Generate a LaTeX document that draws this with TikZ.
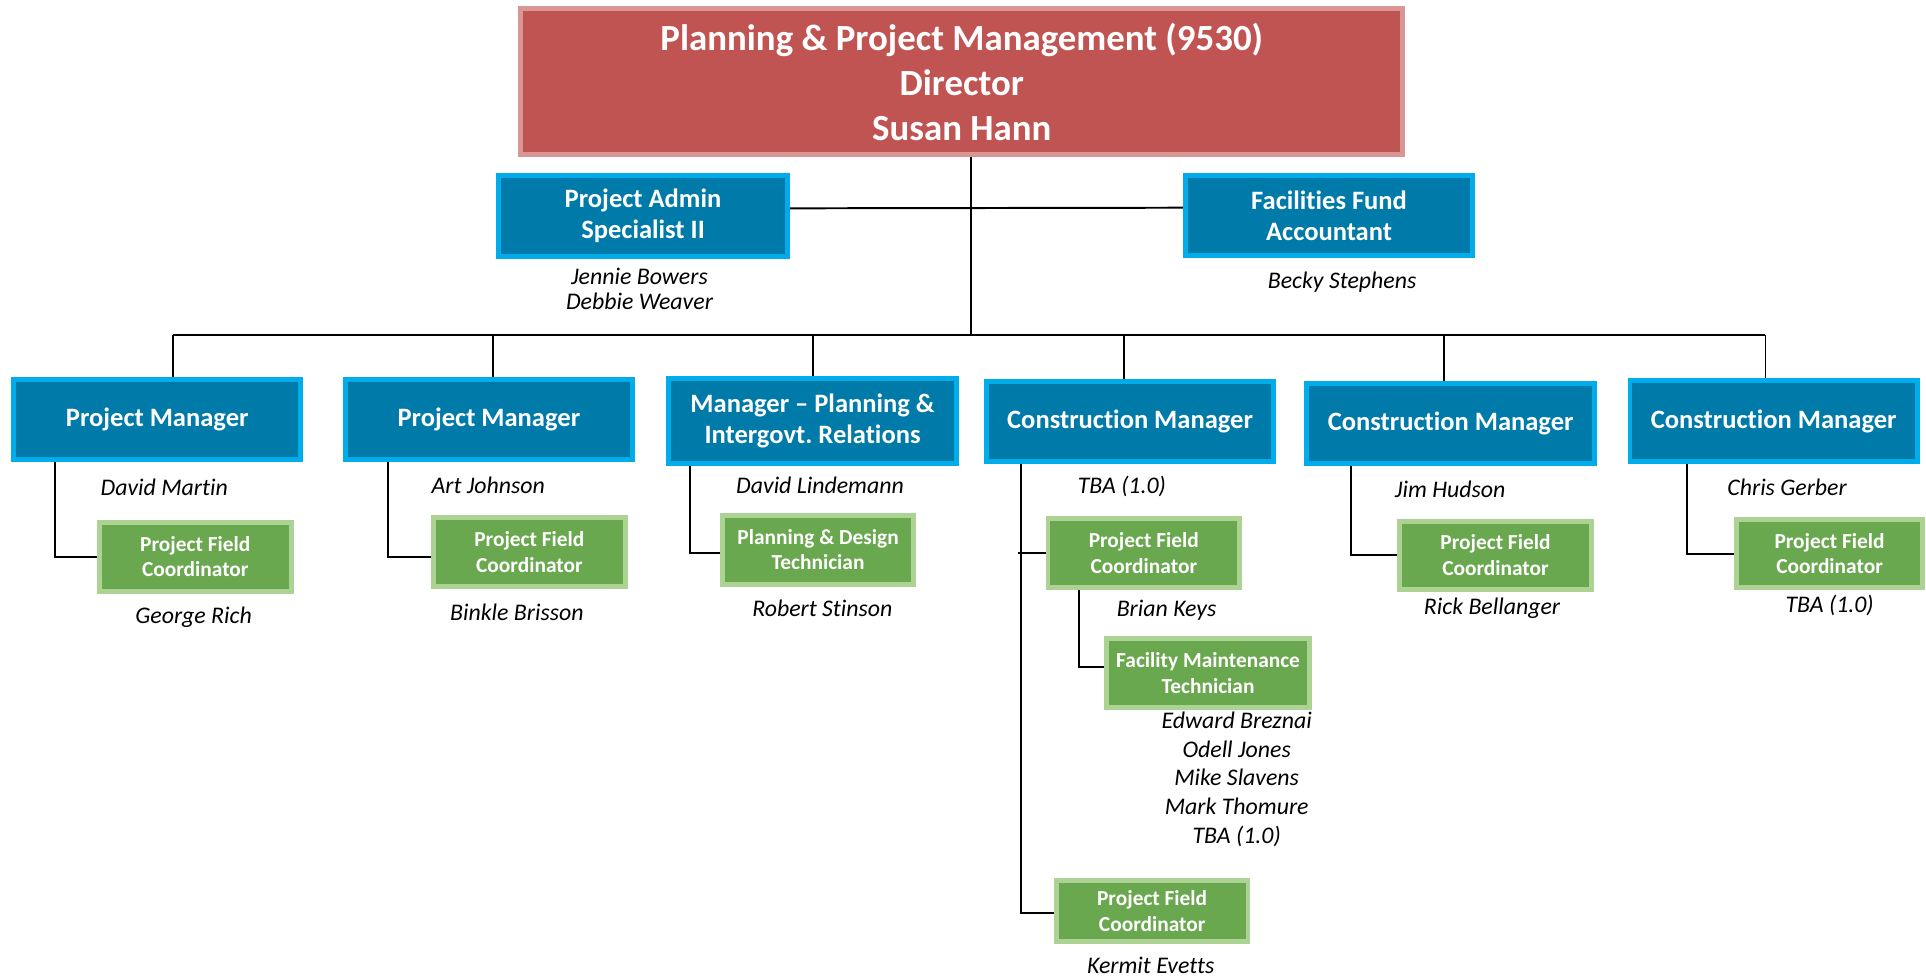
\documentclass[tikz,border=0pt]{standalone}
\usepackage{fontspec}
\setmainfont{Carlito}[Ligatures={TeX,NoCommon}]
\definecolor{redfill}{RGB}{192,84,82}
\definecolor{redline}{RGB}{217,150,148}
\definecolor{bluefill}{RGB}{0,122,168}
\definecolor{blueline}{RGB}{0,172,234}
\definecolor{greenfill}{RGB}{106,168,79}
\definecolor{greenline}{RGB}{172,210,148}
\tikzset{
  box/.style={rectangle, inner sep=0pt, line width=2pt, align=center, text=white},
  topbox/.style={box, fill=redfill, draw=redline, font=\fontsize{15}{18.3}\selectfont\bfseries},
  bluebox/.style={box, fill=bluefill, draw=blueline, minimum width=117pt, minimum height=32.5pt, font=\fontsize{10.8}{12.6}\selectfont\bfseries},
  greenbox/.style={box, fill=greenfill, draw=greenline, minimum width=78pt, minimum height=28pt, font=\fontsize{8.7}{10.5}\selectfont\bfseries},
  person/.style={inner sep=0pt, align=center, font=\fontsize{9.7}{11.7}\selectfont\itshape},
  link/.style={line width=0.8pt, draw=black},
}
\frenchspacing
\begin{document}
\begin{tikzpicture}[x=0.5pt, y=-0.5pt]
\useasboundingbox (0,0) rectangle (1568,797);
% boxes
\node[topbox, minimum width=359pt, minimum height=59.5pt] (top) at (783,66.5)
  {Planning \& Project Management (9530)\\Director\\Susan Hann};
\node[bluebox, minimum width=117.5pt, minimum height=33pt] (admin) at (523.5,176) {Project Admin\\Specialist II};
\node[bluebox] (fund) at (1082,175.5) {Facilities Fund\\Accountant};

\node[bluebox] (pm1) at (128,341.5) {Project Manager};
\node[bluebox] (pm2) at (398,341.5) {Project Manager};
\node[bluebox, minimum width=117.5pt, minimum height=34.5pt] (mgr) at (661.5,342.5) {Manager – Planning \&\\Intergovt.\ Relations};
\node[bluebox] (cm1) at (920,343) {Construction Manager};
\node[bluebox, minimum height=32.7pt] (cm2) at (1181,344.7) {Construction Manager};
\node[bluebox, minimum height=33pt] (cm3) at (1444,343) {Construction Manager};

\node[greenbox] (g1) at (159,453.2) {Project Field\\Coordinator};
\node[greenbox] (g2) at (431,449.2) {Project Field\\Coordinator};
\node[greenbox] (g3) at (666,447.5) {Planning \& Design\\Technician};
\node[greenbox] (g4) at (931.2,450.2) {Project Field\\Coordinator};
\node[greenbox, minimum width=82.5pt] (g5) at (983.5,548) {Facility Maintenance\\Technician};
\node[greenbox, minimum height=24.75pt] (g6) at (938,741.8) {Project Field\\Coordinator};
\node[greenbox] (g7) at (1217.5,452.2) {Project Field\\Coordinator};
\node[greenbox, minimum width=75.5pt, minimum height=27.6pt] (g8) at (1489.5,450.7) {Project Field\\Coordinator};

% names
\node[person, font=\fontsize{9.7}{10.2}\selectfont\itshape] (nadmin) at (520.6,235.4) {Jennie Bowers\\Debbie Weaver};
\node[person] (nfund) at (1092.6,229.3) {Becky Stephens};
\node[person] (n1) at (133.7,397) {David Martin};
\node[person] (n2) at (397.5,394.9) {Art Johnson};
\node[person] (n3) at (667.6,394.9) {David Lindemann};
\node[person] (n4) at (913.3,395.7) {TBA (1.0)};
\node[person] (n5) at (1180.6,398.4) {Jim Hudson};
\node[person] (n6) at (1454.9,397) {Chris Gerber};
\node[person] (ng1) at (157.6,502.6) {George Rich};
\node[person] (ng2) at (420.8,498.5) {Binkle Brisson};
\node[person] (ng3) at (669.5,495.3) {Robert Stinson};
\node[person] (ng4) at (949.7,496.6) {Brian Keys};
\node[person] (ng5) at (1006.8,634.4) {Edward Breznai\\Odell Jones\\Mike Slavens\\Mark Thomure\\TBA (1.0)};
\node[person] (ng6) at (936.8,785.6) {Kermit Evetts};
\node[person] (ng7) at (1214.7,495.3) {Rick Bellanger};
\node[person] (ng8) at (1489.5,492.5) {TBA (1.0)};

% coordinates
\coordinate (busC) at (790.5,273);
\coordinate (d1) at (140.5,273);
\coordinate (d2) at (401.5,273);
\coordinate (d3) at (661.6,273);
\coordinate (d4) at (915,273);
\coordinate (d5) at (1175.4,273);
\coordinate (d6) at (1437.3,273);
\coordinate (c1) at (44.5,0);
\coordinate (c2) at (316,0);
\coordinate (c3) at (561.8,0);
\coordinate (c4) at (831,0);
\coordinate (c4b) at (878.7,0);
\coordinate (c5) at (1099.8,0);
\coordinate (c6) at (1373.5,0);

% connectors
\draw[link] (busC |- top.south) -- (busC);
\draw[link] ([yshift=3.2pt]admin.east) -- ([yshift=3.2pt]fund.west);
\draw[link] (d1) -- (d6);
\draw[link] (d1) -- (d1 |- pm1.north);
\draw[link] (d2) -- (d2 |- pm2.north);
\draw[link] (d3) -- (d3 |- mgr.north);
\draw[link] (d4) -- (d4 |- cm1.north);
\draw[link] (d5) -- (d5 |- cm2.north);
\draw[link] (d6) -- (d6 |- cm3.north);

\draw[link] (c1 |- pm1.south) |- (g1.west);
\draw[link] (c2 |- pm2.south) |- ([yshift=-2pt]g2.west);
\draw[link] (c3 |- mgr.south) |- ([yshift=-1.2pt]g3.west);
\draw[link] (c4 |- cm1.south) |- ([yshift=-0.9pt]g6.west);
\draw[link] ([xshift=-1pt]c4 |- g4.west) -- (g4.west);
\draw[link] (c4b |- g4.south) |- ([yshift=2.3pt]g5.west);
\draw[link] (c5 |- cm2.south) |- (g7.west);
\draw[link] (c6 |- cm3.south) |- (g8.west);
\end{tikzpicture}
\end{document}
